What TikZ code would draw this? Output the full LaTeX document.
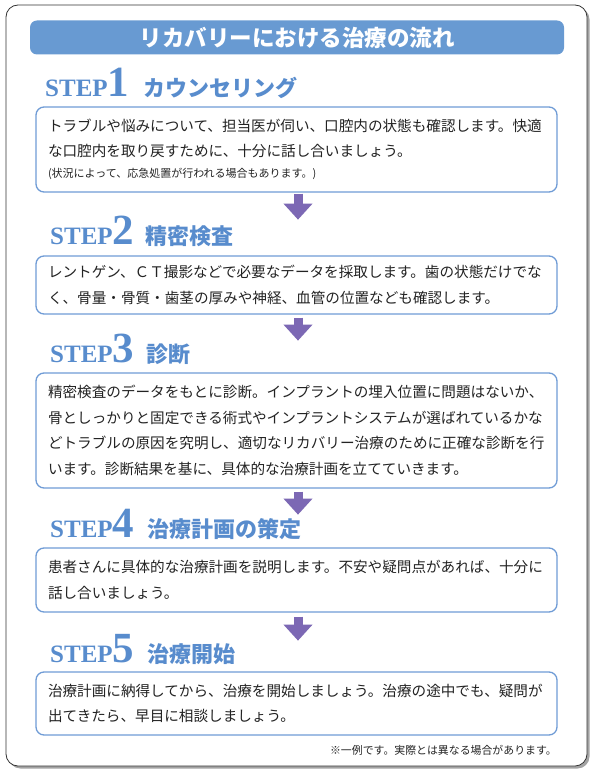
\documentclass[tikz,border=0pt]{standalone}
\usepackage{fontspec}
\setmainfont{Liberation Serif}
\newfontfamily\jpfont{Noto Sans CJK JP}
\usetikzlibrary{arrows.meta,shadows}
\definecolor{stepblue}{RGB}{88,140,205}
\definecolor{barblue}{RGB}{104,154,210}
\definecolor{boxblue}{RGB}{112,156,214}
\definecolor{arrowpurple}{RGB}{124,104,180}
\definecolor{textgray}{RGB}{35,35,35}
\begin{document}
\begin{tikzpicture}[x=1pt,y=-1pt]
            \tikzset{Frame/.style={%
                draw=black!80,%
                line width=0.8pt,%
                rounded corners=12pt,%
                fill=white,%
                drop shadow={shadow xshift=2.5pt,shadow yshift=-2.5pt,fill=black!60,opacity=0.6},%
            }}
            \tikzset{TitleBar/.style={%
                fill=barblue,%
                rounded corners=7pt,%
                minimum width=534pt,%
                minimum height=34pt,%
                text=white,%
                font=\jpfont\bfseries\fontsize{22.5}{26}\selectfont,%
            }}
            \tikzset{StepHead/.style={%
                text=stepblue,%
                inner sep=0pt,%
                anchor=base west,%
                font=\bfseries\fontsize{25}{30}\selectfont,%
            }}
            \tikzset{StepTitle/.style={%
                text=stepblue,%
                inner sep=0pt,%
                anchor=base west,%
                font=\jpfont\bfseries\fontsize{22}{26}\selectfont,%
            }}
            \tikzset{StepBox/.style={%
                draw=boxblue,%
                line width=1.3pt,%
                rounded corners=8pt,%
                fill=white,%
                text width=497pt,%
                inner xsep=12pt,%
                inner ysep=0pt,%
                align=left,%
                text=textgray,%
                font=\jpfont\fontsize{14.6}{25.5}\selectfont,%
            }}
            \tikzset{Flow/.style={%
                draw=arrowpurple,%
                line width=9pt,%
                -{Triangle[width=28pt,length=16pt]},%
            }}
            \tikzset{Note/.style={%
                inner sep=0pt,%
                text=textgray,%
                font=\jpfont\fontsize{10.9}{13}\selectfont,%
            }}

            \useasboundingbox (0,0) rectangle (594,775);
            \fill[white] (0,0) rectangle (594,775);
            \path[Frame] (6,5) rectangle (587,766);

            \node[TitleBar] (title) at (297,37.5) {リカバリーにおける治療の流れ};

            \node[StepHead] (s1) at (45,97) {STEP{\fontsize{43}{43}\selectfont 1}};
            \node[StepTitle] (t1) at (143,97) {カウンセリング};
            \node[StepBox, minimum height=85pt] (box1) at (296.5,149.5) {トラブルや悩みについて、担当医が伺い、口腔内の状態も確認します。快適\\な口腔内を取り戻すために、十分に話し合いましょう。\\[-4.5pt]{\fontsize{11}{12}\selectfont (状況によって、応急処置が行われる場合もあります。)}};

            \node[StepHead] (s2) at (50,245) {STEP{\fontsize{43}{43}\selectfont 2}};
            \node[StepTitle] (t2) at (145,245) {精密検査};
            \node[StepBox, minimum height=58pt] (box2) at (296.5,285) {レントゲン、ＣＴ撮影などで必要なデータを採取します。歯の状態だけでな\\く、骨量・骨質・歯茎の厚みや神経、血管の位置なども確認します。};

            \node[StepHead] (s3) at (50,362) {STEP{\fontsize{43}{43}\selectfont 3}};
            \node[StepTitle] (t3) at (146,362) {診断};
            \node[StepBox, minimum height=115pt] (box3) at (296.5,430.5) {精密検査のデータをもとに診断。インプラントの埋入位置に問題はないか、\\骨としっかりと固定できる術式やインプラントシステムが選ばれているかな\\どトラブルの原因を究明し、適切なリカバリー治療のために正確な診断を行\\います。診断結果を基に、具体的な治療計画を立てていきます。};

            \node[StepHead] (s4) at (50,537) {STEP{\fontsize{43}{43}\selectfont 4}};
            \node[StepTitle] (t4) at (147,537) {治療計画の策定};
            \node[StepBox, minimum height=64pt] (box4) at (296.5,580) {患者さんに具体的な治療計画を説明します。不安や疑問点があれば、十分に\\話し合いましょう。};

            \node[StepHead] (s5) at (50,662) {STEP{\fontsize{43}{43}\selectfont 5}};
            \node[StepTitle] (t5) at (147,662) {治療開始};
            \node[StepBox, minimum height=63pt] (box5) at (296.5,703.5) {治療計画に納得してから、治療を開始しましょう。治療の途中でも、疑問が\\出てきたら、早目に相談しましょう。};

            \node[Note, anchor=east] (note) at (557,750) {※一例です。実際とは異なる場合があります。};

            \draw[Flow] (box1.south) ++(1.5,1) -- ++(0,26);
            \draw[Flow] (box2.south) ++(1.5,3) -- ++(0,23);
            \draw[Flow] (box3.south) ++(1.5,3) -- ++(0,23);
            \draw[Flow] (box4.south) ++(1.5,4) -- ++(0,24);
        \end{tikzpicture}
\end{document}
